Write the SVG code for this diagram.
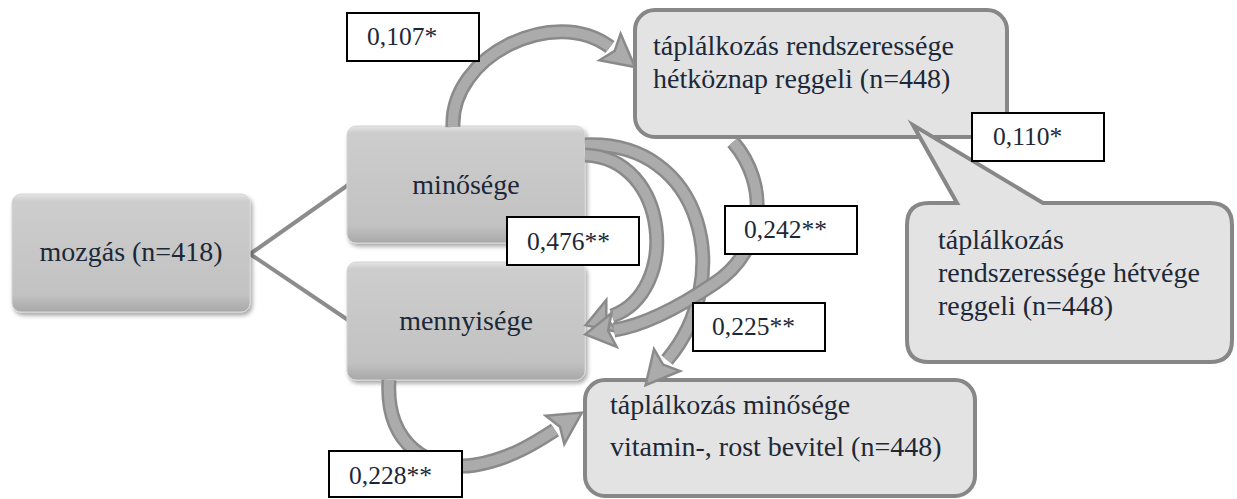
<svg xmlns="http://www.w3.org/2000/svg" width="1237" height="499" viewBox="0 0 1237 499">
  <defs>
    <linearGradient id="boxGrad" x1="0" y1="0" x2="0" y2="1">
      <stop offset="0" stop-color="#e4e4e4"/>
      <stop offset="0.06" stop-color="#cdcdcd"/>
      <stop offset="0.85" stop-color="#c2c2c2"/>
      <stop offset="1" stop-color="#a8a8a8"/>
    </linearGradient>
    <filter id="shadow" x="-10%" y="-10%" width="125%" height="130%">
      <feDropShadow dx="2" dy="3" stdDeviation="2" flood-color="#000" flood-opacity="0.35"/>
    </filter>
    <style>
      text { font-family: "Liberation Serif", "DejaVu Serif", serif; fill: #1c2838; }
      .node-text { font-size: 28px; }
      .lbl-text { font-size: 25.5px; }
      .dark-box { fill: url(#boxGrad); stroke: #d6d6d6; stroke-width: 1; filter: url(#shadow); }
      .light-box { fill: #e3e3e3; stroke: #878787; stroke-width: 4; }
      .link { stroke: #8c8c8c; stroke-width: 4; fill: none; }
      .band-out { fill: none; stroke: #8a8a8a; stroke-width: 15; }
      .band-in { fill: none; stroke: #ababab; stroke-width: 10; }
      .head { fill: #ababab; stroke: #8a8a8a; stroke-width: 2.5; stroke-linejoin: miter; }
      .lbl-box { fill: #ffffff; stroke: #000000; stroke-width: 2; }
    </style>
  </defs>

  <rect width="1237" height="499" fill="#ffffff"/>

  <!-- straight links from the root node -->
  <g id="links">
    <line class="link" x1="250" y1="254" x2="348" y2="185"/>
    <line class="link" x1="250" y1="254" x2="348" y2="320"/>
  </g>

  <g id="node-mozgas">
    <rect class="dark-box" x="12" y="194" width="238" height="118" rx="9"/>
    <text class="node-text" x="131" y="261" text-anchor="middle">mozgás (n=418)</text>
  </g>

  <g id="node-minosege">
    <rect class="dark-box" x="347" y="126" width="238" height="117" rx="9"/>
    <text class="node-text" x="466" y="194" text-anchor="middle">minősége</text>
  </g>

  <g id="node-mennyisege">
    <rect class="dark-box" x="347" y="262" width="238" height="118" rx="9"/>
    <text class="node-text" x="466" y="330" text-anchor="middle">mennyisége</text>
  </g>

  <g id="node-hetkoznap">
    <rect class="light-box" x="635" y="10" width="372" height="127" rx="20"/>
    <text class="node-text" x="653" y="55">táplálkozás rendszeressége</text>
    <text class="node-text" x="653" y="88">hétköznap reggeli (n=448)</text>
  </g>

  <g id="node-vitamin">
    <rect class="light-box" x="585" y="380" width="390" height="116" rx="20"/>
    <text class="node-text" x="610" y="414">táplálkozás minősége</text>
    <text class="node-text" x="610" y="456">vitamin-, rost bevitel (n=448)</text>
  </g>

  <!-- curved correlation arrows: band outline, band body, barbed head -->
  <g id="connectors">
    <g id="arrow-107">
      <path class="band-out" d="M 453,127 C 450,55 555,5 610,47"/>
      <path class="band-in" d="M 453,127 C 450,55 555,5 610,47"/>
      <polygon class="head" points="599.4,60.3 635,67 620.6,33.7 614.7,50.8"/>
    </g>
    <g id="arrow-225">
      <path class="band-out" d="M 585,145 C 705,140 735,280 667,360"/>
      <path class="band-in" d="M 585,145 C 705,140 735,280 667,360"/>
      <polygon class="head" points="680,371 645.6,385.1 654,349 663.1,364.6"/>
    </g>
    <g id="arrow-476">
      <path class="band-out" d="M 585,155 C 670,158 680,292 612,316"/>
      <path class="band-in" d="M 585,155 C 670,158 680,292 612,316"/>
      <polygon class="head" points="617.7,332 585.6,325.3 606.3,300 606.3,318"/>
    </g>
    <g id="arrow-242">
      <path class="band-out" d="M 733,142 C 770,185 765,250 715,283 C 675,310 640,326 614,330"/>
      <path class="band-in" d="M 733,142 C 770,185 765,250 715,283 C 675,310 640,326 614,330"/>
      <polygon class="head" points="616.6,346.8 585.3,334.4 611.4,313.2 608.1,330.9"/>
    </g>
    <g id="arrow-228">
      <path class="band-out" d="M 389,380 C 385,445 430,472 475,465 C 510,459 535,443 555,430"/>
      <path class="band-in" d="M 389,380 C 385,445 430,472 475,465 C 510,459 535,443 555,430"/>
      <polygon class="head" points="564.3,444.2 581.8,412.6 545.7,415.8 560,426.7"/>
    </g>
  </g>

  <g id="node-hetvege">
    <path class="light-box" d="M 929,203 L 957,203 L 913,125 L 1043,203 L 1210,203 Q 1232,203 1232,225 L 1232,340 Q 1232,362 1210,362 L 929,362 Q 907,362 907,340 L 907,225 Q 907,203 929,203 Z"/>
    <text class="node-text" x="938" y="249">táplálkozás</text>
    <text class="node-text" x="938" y="282">rendszeressége hétvége</text>
    <text class="node-text" x="938" y="315">reggeli (n=448)</text>
  </g>

  <!-- coefficient labels -->
  <g id="edge-labels">
    <rect class="lbl-box" x="347" y="13" width="132" height="48"/>
    <text class="lbl-text" x="367" y="45">0,107*</text>
    <rect class="lbl-box" x="972" y="113" width="132" height="48"/>
    <text class="lbl-text" x="993" y="145">0,110*</text>
    <rect class="lbl-box" x="507" y="217" width="132" height="48"/>
    <text class="lbl-text" x="527" y="250">0,476**</text>
    <rect class="lbl-box" x="725" y="206" width="132" height="48"/>
    <text class="lbl-text" x="744" y="238">0,242**</text>
    <rect class="lbl-box" x="693" y="303" width="132" height="48"/>
    <text class="lbl-text" x="712" y="335">0,225**</text>
    <rect class="lbl-box" x="329" y="451" width="133" height="46"/>
    <text class="lbl-text" x="349" y="484">0,228**</text>
  </g>
</svg>
